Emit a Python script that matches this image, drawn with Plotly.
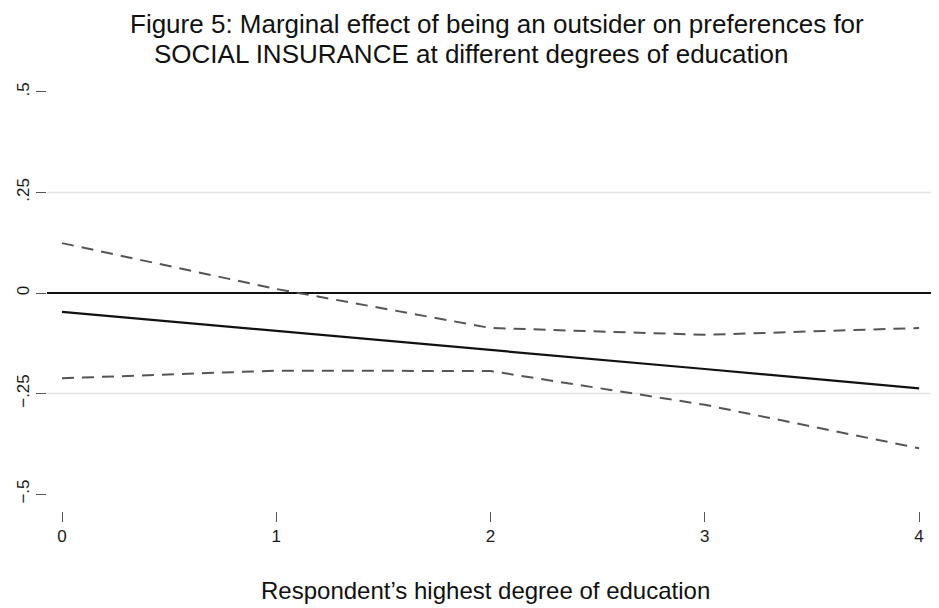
import plotly.graph_objects as go

# Data
education = [0, 1, 2, 3, 4]
marginal_effect = [-0.047, -0.094, -0.141, -0.189, -0.237]
upper_ci = [0.124, 0.010, -0.087, -0.104, -0.087]
lower_ci = [-0.212, -0.193, -0.194, -0.278, -0.386]

y_tickvals = [-0.5, -0.25, 0, 0.25, 0.5]
y_ticktext = ["\u2212.5", "\u2212.25", "0", ".25", ".5"]
x_tickvals = [0, 1, 2, 3, 4]
x_ticktext = ["0", "1", "2", "3", "4"]
grid_values = [-0.25, 0.25]
reference_line = 0

title_line1 = "Figure 5: Marginal effect of being an outsider on preferences for"
title_line2 = "SOCIAL INSURANCE at different degrees of education"
x_title = "Respondent\u2019s highest degree of education"

FONT = "Liberation Sans, Arial, Helvetica, sans-serif"

# The page body adds an 8px offset; the figure is sized to fit the window.
PLOT_TOP = 67
PLOT_H = 436
PLOT_L = 39
PLOT_W = 886


def py(px_from_top):
    """Convert a vertical position in figure pixels to paper coordinates."""
    return (PLOT_TOP + PLOT_H - px_from_top) / PLOT_H


def px(px_from_left):
    return (px_from_left - PLOT_L) / PLOT_W


fig = go.Figure()

for gv in grid_values:
    fig.add_hline(y=gv, line=dict(color="#e4e4e4", width=1.5), layer="below")
fig.add_hline(y=reference_line, line=dict(color="#111111", width=2), layer="below")

fig.add_trace(go.Scatter(x=education, y=upper_ci, mode="lines",
                         line=dict(color="#555555", width=2, dash="12px,8px"),
                         showlegend=False, hoverinfo="skip"))
fig.add_trace(go.Scatter(x=education, y=lower_ci, mode="lines",
                         line=dict(color="#555555", width=2, dash="12px,8px"),
                         showlegend=False, hoverinfo="skip"))
fig.add_trace(go.Scatter(x=education, y=marginal_effect, mode="lines",
                         line=dict(color="#111111", width=2.2),
                         showlegend=False))

fig.update_layout(
    width=931, height=600,
    margin=dict(l=PLOT_L, r=931 - PLOT_L - PLOT_W, t=PLOT_TOP, b=600 - PLOT_TOP - PLOT_H),
    paper_bgcolor="white", plot_bgcolor="white",
    font=dict(family=FONT, color="#1a1a1a", size=17),
    xaxis=dict(range=[-0.070, 4.065], tickvals=x_tickvals, ticktext=x_ticktext,
               showgrid=False, zeroline=False, showline=False,
               ticks="outside", ticklen=10, tickwidth=1, tickcolor="#555555",
               tickfont=dict(size=17, family=FONT)),
    yaxis=dict(range=[-0.542, 0.542], tickvals=y_tickvals, ticktext=y_ticktext,
               showgrid=False, zeroline=False, showline=False,
               ticks="outside", ticklen=10, tickwidth=1, tickcolor="#555555",
               tickangle=-90, tickfont=dict(size=17, family=FONT)),
    annotations=[
        dict(text=title_line1, xref="paper", yref="paper", x=px(120), y=py(16),
             xanchor="left", yanchor="middle", showarrow=False,
             font=dict(size=26, family=FONT, color="#111111")),
        dict(text=title_line2, xref="paper", yref="paper", x=px(144), y=py(46),
             xanchor="left", yanchor="middle", showarrow=False,
             font=dict(size=26, family=FONT, color="#111111")),
        dict(text=x_title, xref="paper", yref="paper", x=px(477), y=py(582),
             xanchor="center", yanchor="middle", showarrow=False,
             font=dict(size=24, family=FONT, color="#111111")),
    ],
)

fig.write_html("out.html")
